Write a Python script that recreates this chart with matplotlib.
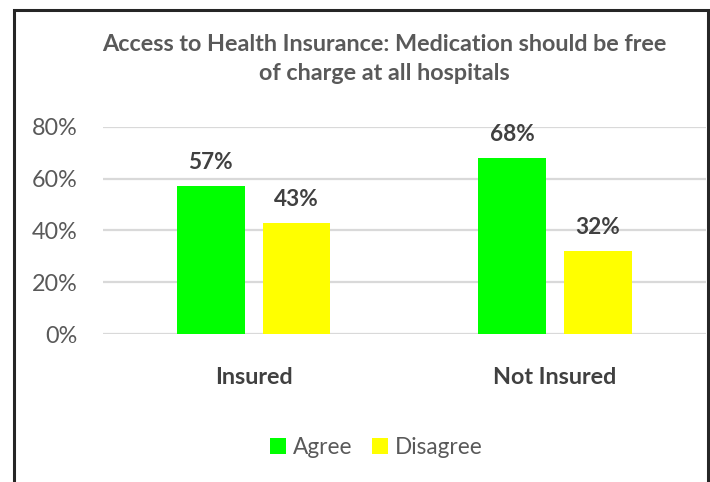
import matplotlib.pyplot as plt
import numpy as np
from matplotlib.patches import Rectangle

plt.rcParams['font.family'] = ['Lato', 'DejaVu Sans']

categories = ['Insured', 'Not Insured']
series_names = ['Agree', 'Disagree']
agree = [57, 68]
disagree = [43, 32]
yticks = [0, 20, 40, 60, 80]

colors = ['#00FF00', '#FFFF00']
text_gray = '#595959'
label_gray = '#404040'

fig = plt.figure(figsize=(7.10, 4.82), dpi=100)
ax = fig.add_axes([0.145, 0.307, 0.849, 0.430])

x = np.arange(len(categories))
width = 0.225
offset = 0.142

for vals, name, col, off in [(agree, series_names[0], colors[0], -offset),
                             (disagree, series_names[1], colors[1], offset)]:
    bars = ax.bar(x + off, vals, width, color=col, label=name, zorder=3)
    for b, v in zip(bars, vals):
        ax.text(b.get_x() + b.get_width() / 2, v + 5, f'{v}%', ha='center', va='bottom',
                fontsize=16.3, fontweight='bold', color=label_gray)

ax.set_xlim(-0.5, 1.5)
ax.set_ylim(0, 80)
ax.set_yticks(yticks)
ax.set_yticklabels([f'{t}%' for t in yticks], fontsize=16.8, color=text_gray)
ax.set_xticks(x)
ax.set_xticklabels(categories, fontsize=16.8, fontweight='bold', color=label_gray)
ax.tick_params(axis='both', length=0)
ax.tick_params(axis='y', pad=18)
ax.tick_params(axis='x', pad=24)
ax.yaxis.grid(True, color='#D9D9D9', linewidth=1.6, zorder=0)
for s in ax.spines.values():
    s.set_visible(False)

fig.text(0.541, 0.878, 'Access to Health Insurance: Medication should be free\nof charge at all hospitals',
         ha='center', va='center', fontsize=16.8, fontweight='bold', color=text_gray, linespacing=1.5)

leg = ax.legend(loc='center', bbox_to_anchor=(0.530, 0.072), bbox_transform=fig.transFigure,
                ncol=2, frameon=False, fontsize=16.3, handlelength=0.7, handleheight=0.7,
                handletextpad=0.3, columnspacing=0.85)
for t in leg.get_texts():
    t.set_color(text_gray)

fig.patches.append(Rectangle((14 / 710, -0.05), 694 / 710, 1 - 10 / 482 + 0.05,
                             transform=fig.transFigure, fill=False, edgecolor='#262626',
                             linewidth=2.2, zorder=10))

fig.savefig('out.png', dpi=100)
